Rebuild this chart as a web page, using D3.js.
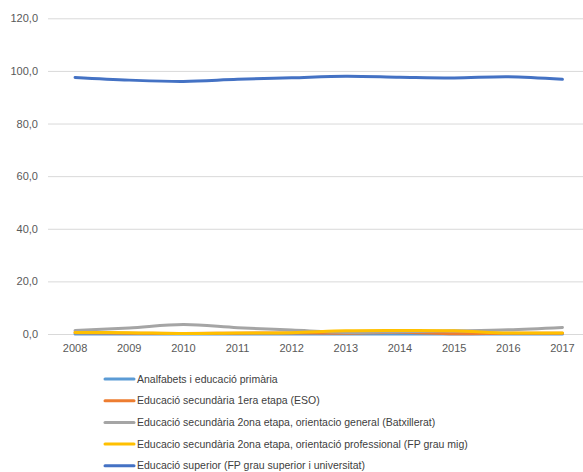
<!DOCTYPE html>
<html><head><meta charset="utf-8">
<script src="https://cdn.jsdelivr.net/npm/d3@7"></script>
<style>body{margin:0;background:#fff;}svg{display:block;font-family:"Liberation Sans",Arial,sans-serif;}</style>
</head><body>
<svg id="c" width="583" height="472"></svg>
<script>
const years = ["2008","2009","2010","2011","2012","2013","2014","2015","2016","2017"];
const yTicks = [0,20,40,60,80,100,120];
const seriesNames = [
  "Analfabets i educació primària",
  "Educació secundària 1era etapa (ESO)",
  "Educació secundària 2ona etapa, orientacio general (Batxillerat)",
  "Educacio secundària 2ona etapa, orientació professional (FP grau mig)",
  "Educació superior (FP grau superior i universitat)"
];
const seriesColors = ["#5B9BD5","#ED7D31","#A5A5A5","#FFC000","#4472C4"];
const primaria = [0.0,0.0,0.0,0.0,0.0,0.0,0.0,0.0,0.0,0.0];
const eso = [0.5,0.3,0.2,0.3,0.4,0.3,0.7,0.1,0.3,0.3];
const batxillerat = [1.3,2.3,3.6,2.4,1.5,0.6,0.9,1.2,1.6,2.5];
const fpMig = [0.6,0.5,0.2,0.4,0.5,1.2,1.3,1.2,0.4,0.4];
const superior = [97.5,96.5,96.0,96.8,97.4,98.0,97.6,97.3,97.8,96.8];
const titleText = "(percentatge sobre el total de població ocupada)";

const seriesValues = [primaria, eso, batxillerat, fpMig, superior];
const svg = d3.select("#c");
const x = d3.scaleBand().domain(years).range([48, 589.5]);
const y = d3.scaleLinear().domain([0,120]).range([334, 18.3]);
const fmt = v => d3.format(".1f")(v).replace(".", ",");

// title (mostly above the visible area, as in the reference)
svg.append("text").attr("x",140).attr("y",-3)
  .attr("textLength",245).attr("lengthAdjust","spacingAndGlyphs")
  .attr("fill","#A50021").attr("font-size",14).attr("font-weight","bold").attr("font-style","italic")
  .text(titleText);

// gridlines
svg.append("g").selectAll("line").data(yTicks).join("line")
  .attr("x1",48).attr("x2",583)
  .attr("y1",d=>y(d)+0.5).attr("y2",d=>y(d)+0.5)
  .attr("stroke","#D9D9D9").attr("stroke-width",1);

// y axis labels
const yAxis = d3.axisLeft(y).tickValues(yTicks).tickFormat(fmt).tickSize(0).tickPadding(10);
const gy = svg.append("g").attr("transform","translate(48,0)").call(yAxis);
gy.select(".domain").remove();
gy.selectAll("text").attr("fill","#595959").attr("font-size",11);

// x axis labels
const xAxis = d3.axisBottom(x).tickSize(0).tickPadding(10);
const gx = svg.append("g").attr("transform","translate(0,334)").call(xAxis);
gx.select(".domain").remove();
gx.selectAll("text").attr("fill","#595959").attr("font-size",11);

// lines
const line = d3.line()
  .x((d,i)=>x(years[i])+x.bandwidth()/2)
  .y(d=>y(d))
  .curve(d3.curveCatmullRom.alpha(0.5));
svg.append("g").selectAll("path").data(seriesValues).join("path")
  .attr("d", d=>line(d))
  .attr("fill","none")
  .attr("stroke",(d,i)=>seriesColors[i])
  .attr("stroke-width",3)
  .attr("stroke-linecap","round");

// legend
const lg = svg.append("g").selectAll("g").data(seriesNames).join("g")
  .attr("transform",(d,i)=>`translate(105,${379 + i*21.7})`);
lg.append("line").attr("x1",0).attr("x2",29).attr("y1",0).attr("y2",0)
  .attr("stroke",(d,i)=>seriesColors[i]).attr("stroke-width",3).attr("stroke-linecap","round");
lg.append("text").attr("x",32).attr("y",3.5).attr("font-size",10.5).attr("fill","#404040").text(d=>d);
</script>
</body></html>
